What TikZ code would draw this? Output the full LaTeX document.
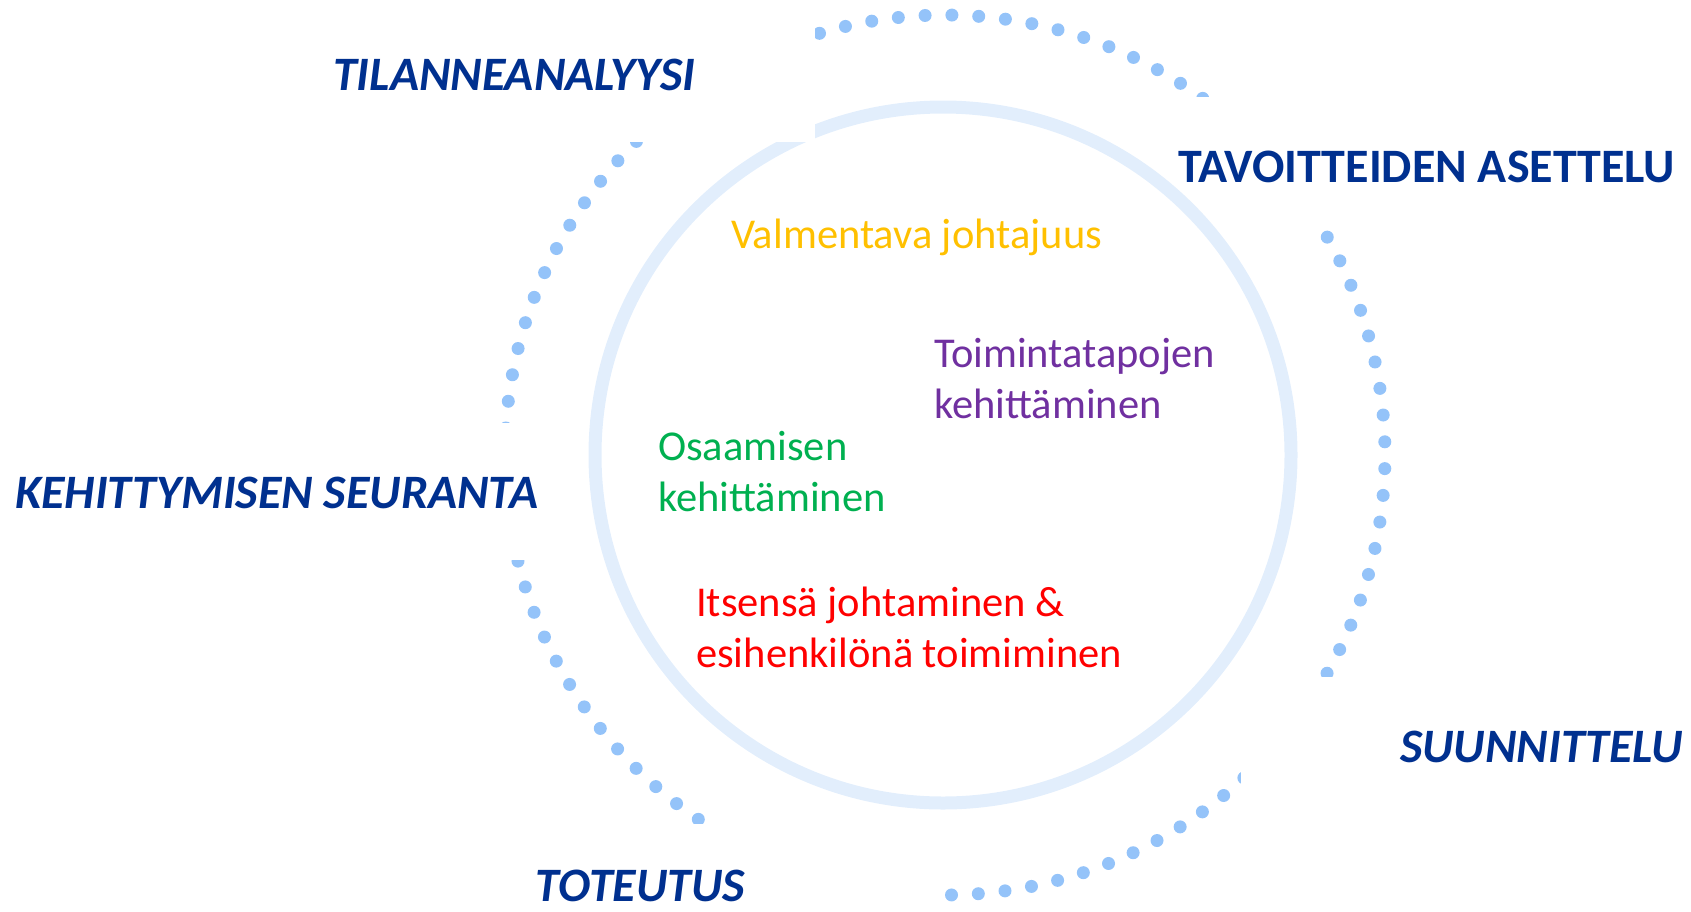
\documentclass[tikz,border=0pt]{standalone}
\usepackage{fontspec}
\setmainfont{Carlito}
\definecolor{titleblue}{HTML}{00308F}
\definecolor{dotblue}{HTML}{94C3F9}
\definecolor{ringblue}{HTML}{E2EEFC}
\definecolor{txtyellow}{HTML}{FFC000}
\definecolor{txtpurple}{HTML}{7030A0}
\definecolor{txtgreen}{HTML}{00B050}
\definecolor{txtred}{HTML}{FF0000}
\begin{document}
\begin{tikzpicture}[x=1pt,y=-1pt,
  phase/.style={font=\fontsize{48}{58}\selectfont\bfseries\itshape, text=titleblue, inner sep=0pt, anchor=base west},
  phaseup/.style={font=\fontsize{48}{58}\selectfont\bfseries, text=titleblue, inner sep=0pt, anchor=base west},
  area/.style={font=\fontsize{42.5}{51}\selectfont, inner sep=0pt, anchor=base west, align=left},
  mask/.style={fill=white, draw=none},
  ring/.style={draw=ringblue, line width=13pt}]
\useasboundingbox (0,0) rectangle (1691,911);
% dotted outer cycle
\foreach \k in {0,...,102}
  \fill[dotblue] ({945+440*cos(-89.1+\k*3.49515)}, {455+440*sin(-89.1+\k*3.49515)}) circle (6.5pt);
% gaps behind the labels
\fill[mask] (1150,97) rectangle (1691,229);
\fill[mask] (1241,677) rectangle (1691,800);
\fill[mask] (530,824) rectangle (940,911);
\fill[mask] (0,423) rectangle (540,560);
% inner ring
\coordinate (c) at (943,455);
\draw[ring] (c) circle (348pt);
\fill[mask] (300,0) rectangle (815,142);
% phase labels
\node[phase] (tila) at (333,90) {TILANNEANALYYSI};
\node[phaseup] (tavo) at (1178,182) {TAVOITTEIDEN ASETTELU};
\node[phase] (suun) at (1400,762) {SUUNNITTELU};
\node[phase] (tote) at (535,901) {TOTEUTUS};
\node[phase] (kehi) at (15,508) {KEHITTYMISEN SEURANTA};
% inner labels (anchor = baseline of the last line)
\node[area, text=txtyellow] (valm) at (731,248) {Valmentava johtajuus};
\node[area, text=txtpurple] (toim) at (934,418) {Toimintatapojen\\kehittäminen};
\node[area, text=txtgreen] (osaa) at (658,511) {Osaamisen\\kehittäminen};
\node[area, text=txtred] (itse) at (696,667) {Itsensä johtaminen \&\\esihenkilönä toimiminen};
\end{tikzpicture}
\end{document}
